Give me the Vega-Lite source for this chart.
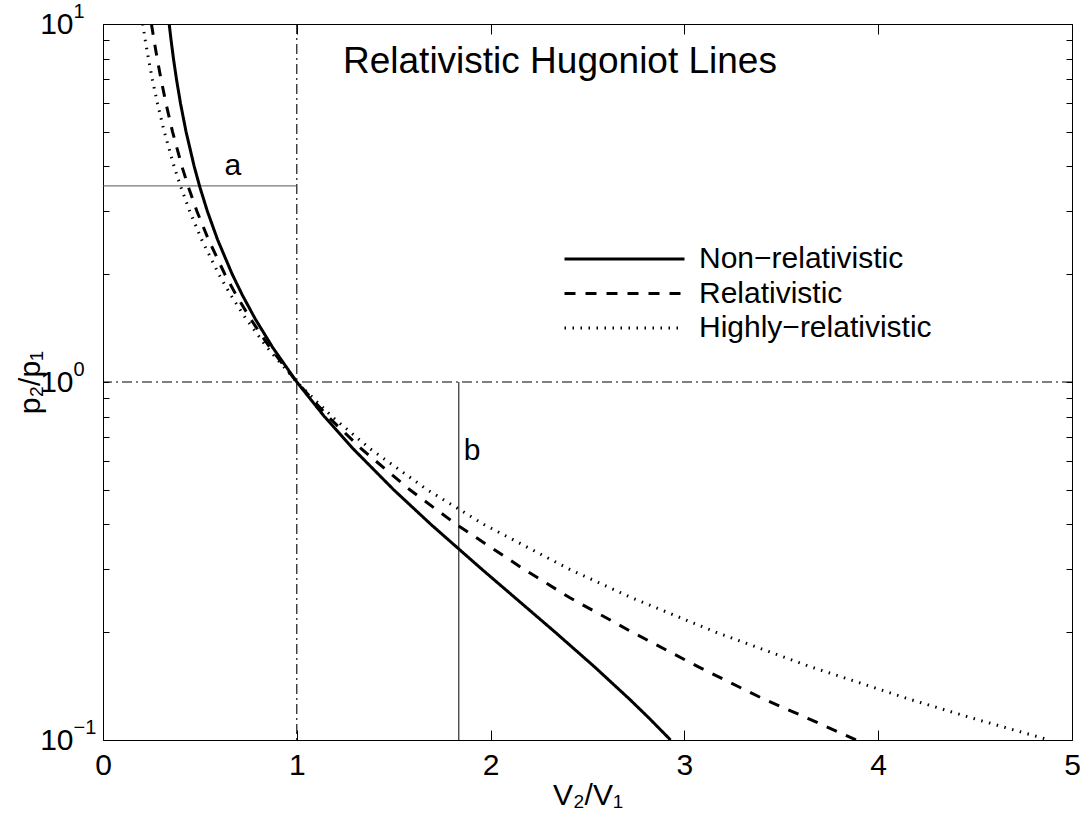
{
  "$schema": "https://vega.github.io/schema/vega-lite/v6.json",
  "width": 969,
  "height": 716,
  "autosize": {"type": "none"},
  "padding": {"left": 103, "top": 24, "right": 12, "bottom": 85},
  "config": {
    "font": "Liberation Sans",
    "view": {"stroke": "black", "strokeWidth": 1},
    "axis": {"domain": false, "grid": false, "tickColor": "black", "labelColor": "black", "titleColor": "black", "labelFont": "Liberation Sans", "titleFont": "Liberation Sans", "titleFontWeight": "normal"}
  },
  "datasets": {
    "curves": [
      {"s": "Non−relativistic", "p": 10, "v": 0.3415}, {"s": "Non−relativistic", "p": 9, "v": 0.3514}, {"s": "Non−relativistic", "p": 8, "v": 0.3636}, {"s": "Non−relativistic", "p": 7, "v": 0.3793}, {"s": "Non−relativistic", "p": 6, "v": 0.4}, {"s": "Non−relativistic", "p": 5, "v": 0.4286}, {"s": "Non−relativistic", "p": 4, "v": 0.4706}, {"s": "Non−relativistic", "p": 3.5, "v": 0.5}, {"s": "Non−relativistic", "p": 3, "v": 0.5385}, {"s": "Non−relativistic", "p": 2.5, "v": 0.5909}, {"s": "Non−relativistic", "p": 2, "v": 0.6667}, {"s": "Non−relativistic", "p": 1.75, "v": 0.7188}, {"s": "Non−relativistic", "p": 1.5, "v": 0.7857}, {"s": "Non−relativistic", "p": 1.25, "v": 0.875}, {"s": "Non−relativistic", "p": 1, "v": 1}, {"s": "Non−relativistic", "p": 0.8, "v": 1.1429}, {"s": "Non−relativistic", "p": 0.65, "v": 1.2917}, {"s": "Non−relativistic", "p": 0.5, "v": 1.5}, {"s": "Non−relativistic", "p": 0.4, "v": 1.6923}, {"s": "Non−relativistic", "p": 0.3, "v": 1.9545}, {"s": "Non−relativistic", "p": 0.25, "v": 2.125}, {"s": "Non−relativistic", "p": 0.2, "v": 2.3333}, {"s": "Non−relativistic", "p": 0.16, "v": 2.5366}, {"s": "Non−relativistic", "p": 0.13, "v": 2.7171}, {"s": "Non−relativistic", "p": 0.115, "v": 2.8185}, {"s": "Non−relativistic", "p": 0.1, "v": 2.9286},
      {"s": "Relativistic", "p": 10, "v": 0.2499}, {"s": "Relativistic", "p": 9, "v": 0.2635}, {"s": "Relativistic", "p": 8, "v": 0.2797}, {"s": "Relativistic", "p": 7, "v": 0.2996}, {"s": "Relativistic", "p": 6, "v": 0.325}, {"s": "Relativistic", "p": 5, "v": 0.3589}, {"s": "Relativistic", "p": 4, "v": 0.4073}, {"s": "Relativistic", "p": 3.5, "v": 0.4411}, {"s": "Relativistic", "p": 3, "v": 0.4846}, {"s": "Relativistic", "p": 2.5, "v": 0.5441}, {"s": "Relativistic", "p": 2, "v": 0.6287}, {"s": "Relativistic", "p": 1.75, "v": 0.6871}, {"s": "Relativistic", "p": 1.5, "v": 0.7616}, {"s": "Relativistic", "p": 1.25, "v": 0.8605}, {"s": "Relativistic", "p": 1, "v": 1}, {"s": "Relativistic", "p": 0.8, "v": 1.1617}, {"s": "Relativistic", "p": 0.65, "v": 1.3339}, {"s": "Relativistic", "p": 0.5, "v": 1.5832}, {"s": "Relativistic", "p": 0.4, "v": 1.8235}, {"s": "Relativistic", "p": 0.3, "v": 2.1713}, {"s": "Relativistic", "p": 0.25, "v": 2.4072}, {"s": "Relativistic", "p": 0.2, "v": 2.7312}, {"s": "Relativistic", "p": 0.16, "v": 3.0725}, {"s": "Relativistic", "p": 0.13, "v": 3.4106}, {"s": "Relativistic", "p": 0.115, "v": 3.6364}, {"s": "Relativistic", "p": 0.1, "v": 3.8864},
      {"s": "Highly−relativistic", "p": 10, "v": 0.2048}, {"s": "Highly−relativistic", "p": 9, "v": 0.2182}, {"s": "Highly−relativistic", "p": 8, "v": 0.2345}, {"s": "Highly−relativistic", "p": 7, "v": 0.2548}, {"s": "Highly−relativistic", "p": 6, "v": 0.281}, {"s": "Highly−relativistic", "p": 5, "v": 0.3162}, {"s": "Highly−relativistic", "p": 4, "v": 0.3669}, {"s": "Highly−relativistic", "p": 3.5, "v": 0.4019}, {"s": "Highly−relativistic", "p": 3, "v": 0.4472}, {"s": "Highly−relativistic", "p": 2.5, "v": 0.5088}, {"s": "Highly−relativistic", "p": 2, "v": 0.5976}, {"s": "Highly−relativistic", "p": 1.75, "v": 0.659}, {"s": "Highly−relativistic", "p": 1.5, "v": 0.7385}, {"s": "Highly−relativistic", "p": 1.25, "v": 0.846}, {"s": "Highly−relativistic", "p": 1, "v": 1}, {"s": "Highly−relativistic", "p": 0.8, "v": 1.182}, {"s": "Highly−relativistic", "p": 0.65, "v": 1.3797}, {"s": "Highly−relativistic", "p": 0.5, "v": 1.6733}, {"s": "Highly−relativistic", "p": 0.4, "v": 1.9656}, {"s": "Highly−relativistic", "p": 0.3, "v": 2.4061}, {"s": "Highly−relativistic", "p": 0.25, "v": 2.7255}, {"s": "Highly−relativistic", "p": 0.2, "v": 3.1623}, {"s": "Highly−relativistic", "p": 0.16, "v": 3.653}, {"s": "Highly−relativistic", "p": 0.13, "v": 4.1619}, {"s": "Highly−relativistic", "p": 0.115, "v": 4.4876}, {"s": "Highly−relativistic", "p": 0.1, "v": 4.8832}
    ],
    "vline": [{"v": 1}],
    "hline": [{"p": 1}],
    "linea": [{"v0": 0, "v1": 1, "p": 3.53}],
    "lineb": [{"v": 1.836, "p0": 0.1, "p1": 1}],
    "notes": [
      {"t": "Relativistic Hugoniot Lines", "v": 2.358, "p": 7.28, "size": "big"},
      {"t": "a", "v": 0.67, "p": 3.79, "size": "small"},
      {"t": "b", "v": 1.904, "p": 0.605, "size": "small"}
    ]
  },
  "resolve": {"axis": {"x": "independent", "y": "independent"}},
  "layer": [
    {
      "data": {"name": "vline"},
      "mark": {"type": "rule", "color": "black", "strokeWidth": 1.1, "strokeDash": [10, 4, 2, 4]},
      "encoding": {
        "x": {"field": "v", "type": "quantitative", "scale": {"domain": [0, 5], "nice": false, "zero": false},
              "axis": {"orient": "top", "labels": false, "title": null, "values": [0, 1, 2, 3, 4, 5], "tickSize": -10, "tickWidth": 1}}
      }
    },
    {
      "data": {"name": "hline"},
      "mark": {"type": "rule", "color": "black", "strokeWidth": 1.1, "strokeDash": [10, 4, 2, 4]},
      "encoding": {
        "y": {"field": "p", "type": "quantitative", "scale": {"type": "log", "domain": [0.1, 10], "nice": false},
              "axis": {"orient": "right", "labels": false, "title": null, "values": [0.1, 0.2, 0.3, 0.4, 0.5, 0.6, 0.7, 0.8, 0.9, 1, 2, 3, 4, 5, 6, 7, 8, 9, 10], "tickSize": -6, "tickWidth": 1}}
      }
    },
    {
      "data": {"name": "linea"},
      "mark": {"type": "rule", "color": "#555", "strokeWidth": 1},
      "encoding": {
        "x": {"field": "v0", "type": "quantitative", "axis": null},
        "x2": {"field": "v1"},
        "y": {"field": "p", "type": "quantitative",
              "axis": {"orient": "left", "ticks": false, "title": null, "values": [0.1, 1, 10], "labelFontSize": 20, "labelAlign": "left", "labelBaseline": "middle", "labelPadding": 30, "labelOffset": -13, "labelBound": false, "labelOverlap": false,
                       "labelExpr": "datum.value > 5 ? '1' : datum.value > 0.5 ? '0' : '−1'"}}
      }
    },
    {
      "data": {"name": "lineb"},
      "mark": {"type": "rule", "color": "black", "strokeWidth": 1},
      "encoding": {
        "x": {"field": "v", "type": "quantitative", "axis": null},
        "y": {"field": "p0", "type": "quantitative", "axis": null},
        "y2": {"field": "p1"}
      }
    },
    {
      "data": {"name": "curves"},
      "mark": {"type": "line", "color": "black", "clip": true, "strokeCap": "butt"},
      "encoding": {
        "x": {"field": "v", "type": "quantitative",
              "axis": {"orient": "bottom", "values": [0, 1, 2, 3, 4, 5], "format": "d", "tickSize": -10, "tickWidth": 1, "labelFontSize": 30, "labelPadding": 20, "labelFlush": false, "labelOverlap": false,
                       "title": "V₂/V₁", "titleFontSize": 30, "titleY": 40, "titleBaseline": "top"}},
        "y": {"field": "p", "type": "quantitative",
              "axis": {"orient": "left", "values": [0.1, 0.2, 0.3, 0.4, 0.5, 0.6, 0.7, 0.8, 0.9, 1, 2, 3, 4, 5, 6, 7, 8, 9, 10], "tickSize": -6, "tickWidth": 1, "labelFontSize": 30, "labelPadding": 36, "labelBound": false, "labelOverlap": false,
                       "labelExpr": "(datum.value == 0.1 || datum.value == 1 || datum.value == 10) ? '10' : ''",
                       "title": "p₂/p₁", "titleFontSize": 30, "titleX": -64, "titleY": 358, "titleAngle": -90, "titleBaseline": "alphabetic", "titleAlign": "center"}},
        "strokeDash": {"field": "s", "type": "nominal",
                       "scale": {"domain": ["Non−relativistic", "Relativistic", "Highly−relativistic"], "range": [[1, 0], [11, 10], [1.5, 6.5]]},
                       "legend": {"orient": "none", "legendX": 460, "legendY": 218, "title": null, "symbolType": "stroke", "symbolSize": 14400, "symbolStrokeColor": "black", "labelFontSize": 30, "labelFont": "Liberation Sans", "labelColor": "black", "labelOffset": 13, "labelLimit": 0, "clipHeight": 34, "rowPadding": 0.5}},
        "strokeWidth": {"field": "s", "type": "nominal",
                        "scale": {"domain": ["Non−relativistic", "Relativistic", "Highly−relativistic"], "range": [3, 3, 1.3]},
                        "legend": {"orient": "none", "legendX": 460, "legendY": 218, "title": null, "symbolType": "stroke", "symbolSize": 14400, "symbolStrokeColor": "black", "labelFontSize": 30, "labelFont": "Liberation Sans", "labelColor": "black", "labelOffset": 13, "labelLimit": 0, "clipHeight": 34, "rowPadding": 0.5}}
      }
    },
    {
      "data": {"name": "notes"},
      "mark": {"type": "text", "align": "center", "baseline": "alphabetic", "color": "black", "font": "Liberation Sans"},
      "encoding": {
        "x": {"field": "v", "type": "quantitative", "axis": null},
        "y": {"field": "p", "type": "quantitative", "axis": null},
        "text": {"field": "t"},
        "size": {"field": "size", "type": "nominal", "scale": {"domain": ["big", "small"], "range": [37, 30]}, "legend": null}
      }
    }
  ]
}
